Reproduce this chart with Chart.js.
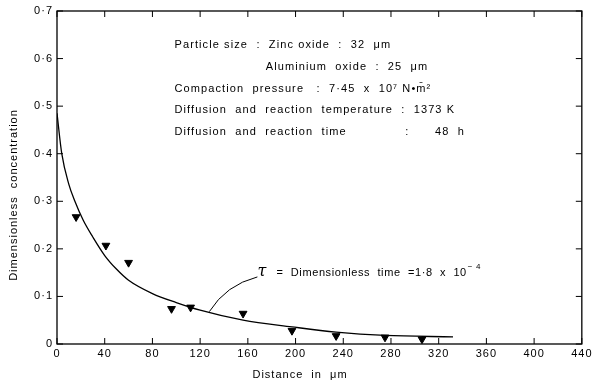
<!DOCTYPE html>
<html>
<head>
<meta charset="utf-8">
<script src="https://cdn.jsdelivr.net/npm/chart.js@4"></script>
<style>
  html, body { margin: 0; padding: 0; background: #fff; }
  #wrap { width: 594px; height: 386px; }
</style>
</head>
<body>
<div id="wrap"><canvas id="chart"></canvas></div>
<script>
// measured points (down triangles)
var pointX = [16, 41, 60, 96, 112, 156, 197, 234, 275, 306];
var pointY = [0.267, 0.207, 0.171, 0.074, 0.077, 0.064, 0.028, 0.017, 0.014, 0.010];

// calculated curve, tau = 1.8e-4
var curveX = [0, 4, 10, 15, 22, 30, 40, 50, 60, 80, 100, 120, 156, 197, 234, 275, 332];
var curveY = [0.485, 0.40, 0.335, 0.30, 0.26, 0.225, 0.186, 0.157, 0.134, 0.106, 0.087, 0.071, 0.05, 0.036, 0.025, 0.018, 0.015];

var xTicks = [0, 40, 80, 120, 160, 200, 240, 280, 320, 360, 400, 440];
var yTicks = [0, 0.1, 0.2, 0.3, 0.4, 0.5, 0.6, 0.7];

var infoLines = [
    {x: 98.5, y: 0.628, text: 'Particle size  :  Zinc oxide  :  32  \u03bcm'},
    {x: 175, y: 0.582, text: 'Aluminium  oxide  :  25  \u03bcm'},
    {x: 98.5, y: 0.536, text: 'Compaction  pressure   :  7\u00b745  x  10\u2077 N\u2022m\u0304\u00b2'},
    {x: 98.5, y: 0.492, text: 'Diffusion  and  reaction  temperature  :  1373 K'},
    {x: 98.5, y: 0.445, text: 'Diffusion  and  reaction  time'}
];
var tauLabel = '=  Dimensionless  time  =1\u00b78  x  10';

var font = '"Liberation Sans", Arial, sans-serif';

function pts(xs, ys) {
    var out = [];
    for (var i = 0; i < xs.length; i++) {
        out.push({x: xs[i], y: ys[i]});
    }
    return out;
}

var framePlugin = {
    id: 'frame',
    beforeDraw: function(chart) {
        chart.ctx.letterSpacing = '1px';
    },
    afterDraw: function(chart) {
        var ctx = chart.ctx;
        var a = chart.chartArea;
        var xs = chart.scales.x;
        var ys = chart.scales.y;
        ctx.save();
        ctx.strokeStyle = '#000';
        ctx.lineWidth = 1.3;
        ctx.strokeRect(a.left, a.top, a.right - a.left, a.bottom - a.top);
        // inward ticks on all four sides
        ctx.lineWidth = 1;
        ctx.beginPath();
        xTicks.forEach(function(v) {
            var px = xs.getPixelForValue(v);
            ctx.moveTo(px, a.bottom); ctx.lineTo(px, a.bottom - 6);
            ctx.moveTo(px, a.top); ctx.lineTo(px, a.top + 6);
        });
        yTicks.forEach(function(v) {
            var py = ys.getPixelForValue(v);
            ctx.moveTo(a.left, py); ctx.lineTo(a.left + 6, py);
            ctx.moveTo(a.right, py); ctx.lineTo(a.right - 6, py);
        });
        ctx.stroke();

        // text block
        ctx.fillStyle = '#000';
        ctx.font = '11px ' + font;
        ctx.textAlign = 'left';
        ctx.textBaseline = 'middle';
        ctx.letterSpacing = '1.1px';
        infoLines.forEach(function(l) {
            ctx.fillText(l.text, xs.getPixelForValue(l.x), ys.getPixelForValue(l.y));
        });
        ctx.fillText(':', xs.getPixelForValue(292), ys.getPixelForValue(0.445));
        ctx.fillText('48  h', xs.getPixelForValue(317), ys.getPixelForValue(0.445));

        // leader line + tau label
        ctx.beginPath();
        ctx.moveTo(xs.getPixelForValue(127.7), ys.getPixelForValue(0.068));
        ctx.quadraticCurveTo(xs.getPixelForValue(141.6), ys.getPixelForValue(0.124),
                             xs.getPixelForValue(168), ys.getPixelForValue(0.141));
        ctx.stroke();
        ctx.letterSpacing = '0px';
        ctx.font = 'italic 16px "DejaVu Serif", serif';
        ctx.fillText('\u03c4', xs.getPixelForValue(168), ys.getPixelForValue(0.152));
        ctx.font = '11px ' + font;
        ctx.letterSpacing = '0.6px';
        var tx = xs.getPixelForValue(184);
        var ty = ys.getPixelForValue(0.149);
        ctx.fillText(tauLabel, tx, ty);
        var w = ctx.measureText(tauLabel).width;
        ctx.font = '8px ' + font;
        ctx.fillText('\u2212 4', tx + w + 1, ty - 6);

        // axis titles
        ctx.font = '11px ' + font;
        ctx.letterSpacing = '1px';
        ctx.textAlign = 'center';
        ctx.fillText('Distance  in  \u03bcm', 300, 375);
        ctx.translate(14, 195);
        ctx.rotate(-Math.PI / 2);
        ctx.fillText('Dimensionless  concentration', 0, 0);
        ctx.restore();
    }
};

new Chart(document.getElementById('chart'), {
    type: 'scatter',
    data: {
        datasets: [
            {
                label: 'Measured',
                data: pts(pointX, pointY),
                pointStyle: 'triangle',
                rotation: 180,
                radius: 4.5,
                backgroundColor: '#000',
                borderColor: '#000',
                borderWidth: 1
            },
            {
                label: 'Calculated',
                type: 'line',
                data: pts(curveX, curveY),
                showLine: true,
                borderColor: '#000',
                borderWidth: 1.3,
                pointRadius: 0,
                cubicInterpolationMode: 'monotone',
                fill: false
            }
        ]
    },
    options: {
        responsive: true,
        maintainAspectRatio: false,
        animation: false,
        layout: { padding: { top: 11, right: 10, bottom: 0, left: 0 } },
        plugins: {
            legend: { display: false },
            tooltip: { enabled: false }
        },
        scales: {
            x: {
                type: 'linear',
                min: 0,
                max: 440,
                afterBuildTicks: function(s) { s.ticks = xTicks.map(function(v) { return {value: v}; }); },
                afterFit: function(s) { s.height = 42; },
                grid: { display: false, drawTicks: false },
                border: { display: false },
                ticks: {
                    color: '#000',
                    padding: 3,
                    font: { family: font, size: 11 }
                }
            },
            y: {
                type: 'linear',
                min: 0,
                max: 0.7,
                afterBuildTicks: function(s) { s.ticks = yTicks.map(function(v) { return {value: v}; }); },
                afterFit: function(s) { s.width = 57; },
                grid: { display: false, drawTicks: false },
                border: { display: false },
                ticks: {
                    color: '#000',
                    padding: 4,
                    font: { family: font, size: 11 },
                    callback: function(v) { return v === 0 ? '0' : v.toFixed(1).replace('.', '\u00b7'); }
                }
            }
        }
    },
    plugins: [framePlugin]
});
</script>
</body>
</html>
